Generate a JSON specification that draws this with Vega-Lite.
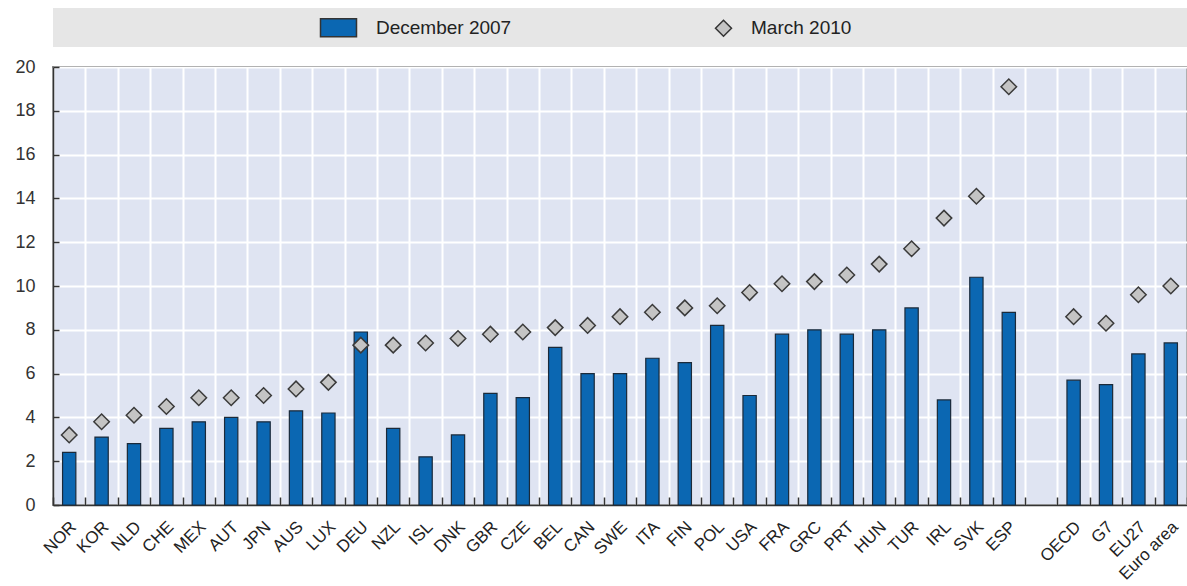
{
  "$schema": "https://vega.github.io/schema/vega-lite/v6.json",
  "padding": {"left": 14, "top": 8, "right": 0, "bottom": 0},
  "bounds": "flush",
  "spacing": 20,
  "config": {"font": "Liberation Sans", "view": {"stroke": null}},
  "vconcat": [
    {
      "width": 1134,
      "height": 39,
      "view": {"fill": "#e6e6e6", "stroke": null},
      "data": {"values": [{}]},
      "mark": {"type": "text", "text": ""},
      "encoding": {}
    },
    {
      "width": 1134,
      "height": 438,
      "view": {"fill": "#dfe4f2", "stroke": "#333333", "strokeWidth": 1.5},
      "data": {
        "values": [
          {"country": "NOR", "series": "December 2007", "value": 2.4},
          {"country": "KOR", "series": "December 2007", "value": 3.1},
          {"country": "NLD", "series": "December 2007", "value": 2.8},
          {"country": "CHE", "series": "December 2007", "value": 3.5},
          {"country": "MEX", "series": "December 2007", "value": 3.8},
          {"country": "AUT", "series": "December 2007", "value": 4.0},
          {"country": "JPN", "series": "December 2007", "value": 3.8},
          {"country": "AUS", "series": "December 2007", "value": 4.3},
          {"country": "LUX", "series": "December 2007", "value": 4.2},
          {"country": "DEU", "series": "December 2007", "value": 7.9},
          {"country": "NZL", "series": "December 2007", "value": 3.5},
          {"country": "ISL", "series": "December 2007", "value": 2.2},
          {"country": "DNK", "series": "December 2007", "value": 3.2},
          {"country": "GBR", "series": "December 2007", "value": 5.1},
          {"country": "CZE", "series": "December 2007", "value": 4.9},
          {"country": "BEL", "series": "December 2007", "value": 7.2},
          {"country": "CAN", "series": "December 2007", "value": 6.0},
          {"country": "SWE", "series": "December 2007", "value": 6.0},
          {"country": "ITA", "series": "December 2007", "value": 6.7},
          {"country": "FIN", "series": "December 2007", "value": 6.5},
          {"country": "POL", "series": "December 2007", "value": 8.2},
          {"country": "USA", "series": "December 2007", "value": 5.0},
          {"country": "FRA", "series": "December 2007", "value": 7.8},
          {"country": "GRC", "series": "December 2007", "value": 8.0},
          {"country": "PRT", "series": "December 2007", "value": 7.8},
          {"country": "HUN", "series": "December 2007", "value": 8.0},
          {"country": "TUR", "series": "December 2007", "value": 9.0},
          {"country": "IRL", "series": "December 2007", "value": 4.8},
          {"country": "SVK", "series": "December 2007", "value": 10.4},
          {"country": "ESP", "series": "December 2007", "value": 8.8},
          {"country": "OECD", "series": "December 2007", "value": 5.7},
          {"country": "G7", "series": "December 2007", "value": 5.5},
          {"country": "EU27", "series": "December 2007", "value": 6.9},
          {"country": "Euro area", "series": "December 2007", "value": 7.4},
          {"country": "NOR", "series": "March 2010", "value": 3.2},
          {"country": "KOR", "series": "March 2010", "value": 3.8},
          {"country": "NLD", "series": "March 2010", "value": 4.1},
          {"country": "CHE", "series": "March 2010", "value": 4.5},
          {"country": "MEX", "series": "March 2010", "value": 4.9},
          {"country": "AUT", "series": "March 2010", "value": 4.9},
          {"country": "JPN", "series": "March 2010", "value": 5.0},
          {"country": "AUS", "series": "March 2010", "value": 5.3},
          {"country": "LUX", "series": "March 2010", "value": 5.6},
          {"country": "DEU", "series": "March 2010", "value": 7.3},
          {"country": "NZL", "series": "March 2010", "value": 7.3},
          {"country": "ISL", "series": "March 2010", "value": 7.4},
          {"country": "DNK", "series": "March 2010", "value": 7.6},
          {"country": "GBR", "series": "March 2010", "value": 7.8},
          {"country": "CZE", "series": "March 2010", "value": 7.9},
          {"country": "BEL", "series": "March 2010", "value": 8.1},
          {"country": "CAN", "series": "March 2010", "value": 8.2},
          {"country": "SWE", "series": "March 2010", "value": 8.6},
          {"country": "ITA", "series": "March 2010", "value": 8.8},
          {"country": "FIN", "series": "March 2010", "value": 9.0},
          {"country": "POL", "series": "March 2010", "value": 9.1},
          {"country": "USA", "series": "March 2010", "value": 9.7},
          {"country": "FRA", "series": "March 2010", "value": 10.1},
          {"country": "GRC", "series": "March 2010", "value": 10.2},
          {"country": "PRT", "series": "March 2010", "value": 10.5},
          {"country": "HUN", "series": "March 2010", "value": 11.0},
          {"country": "TUR", "series": "March 2010", "value": 11.7},
          {"country": "IRL", "series": "March 2010", "value": 13.1},
          {"country": "SVK", "series": "March 2010", "value": 14.1},
          {"country": "ESP", "series": "March 2010", "value": 19.1},
          {"country": "OECD", "series": "March 2010", "value": 8.6},
          {"country": "G7", "series": "March 2010", "value": 8.3},
          {"country": "EU27", "series": "March 2010", "value": 9.6},
          {"country": "Euro area", "series": "March 2010", "value": 10.0}
        ]
      },
      "encoding": {
        "x": {
          "field": "country",
          "type": "nominal",
          "scale": {
            "domain": ["NOR", "KOR", "NLD", "CHE", "MEX", "AUT", "JPN", "AUS", "LUX", "DEU", "NZL", "ISL", "DNK", "GBR", "CZE", "BEL", "CAN", "SWE", "ITA", "FIN", "POL", "USA", "FRA", "GRC", "PRT", "HUN", "TUR", "IRL", "SVK", "ESP", " ", "OECD", "G7", "EU27", "Euro area"],
            "paddingInner": 0,
            "paddingOuter": 0
          },
          "axis": {
            "title": null,
            "tickBand": "extent",
            "grid": true,
            "gridColor": "#ffffff",
            "gridWidth": 2,
            "domainColor": "#333333",
            "domainWidth": 1.5,
            "tickColor": "#333333",
            "tickSize": -8,
            "tickWidth": 1.5,
            "labelAngle": -45,
            "labelAlign": "right",
            "labelBaseline": "middle",
            "labelPadding": 27,
            "labelOffset": 4,
            "labelFontSize": 17,
            "labelColor": "#222222"
          }
        },
        "y": {
          "field": "value",
          "type": "quantitative",
          "scale": {"domain": [0, 20], "nice": false},
          "axis": {
            "title": null,
            "values": [0, 2, 4, 6, 8, 10, 12, 14, 16, 18, 20],
            "grid": true,
            "gridColor": "#ffffff",
            "gridWidth": 2,
            "domainColor": "#333333",
            "domainWidth": 1.5,
            "tickColor": "#333333",
            "tickSize": -6,
            "tickWidth": 1.5,
            "labelPadding": 24,
            "labelFontSize": 18,
            "labelColor": "#333333"
          }
        },
        "color": {
          "field": "series",
          "type": "nominal",
          "scale": {"domain": ["December 2007", "March 2010"], "range": ["#0b67b2", "#c4c4c4"]},
          "legend": {
            "title": null,
            "orient": "none",
            "legendX": 286,
            "legendY": 10,
            "direction": "horizontal",
            "columnPadding": 200,
            "labelOffset": 18,
            "labelFontSize": 19,
            "labelColor": "#222222",
            "symbolSize": 256,
            "symbolStrokeColor": "#333333",
            "symbolStrokeWidth": 1.5,
            "padding": 0
          }
        }
      },
      "layer": [
        {
          "transform": [{"filter": {"field": "series", "equal": "December 2007"}}],
          "mark": {"type": "bar", "width": {"band": 0.41}, "stroke": "#1b2a3a", "strokeWidth": 1.2}
        },
        {
          "transform": [{"filter": {"field": "series", "equal": "March 2010"}}],
          "mark": {"type": "point", "filled": true, "size": 240, "opacity": 1, "stroke": "#3a3a3a", "strokeWidth": 1.5},
          "encoding": {
            "shape": {
              "field": "series",
              "type": "nominal",
              "scale": {"domain": ["December 2007", "March 2010"], "range": ["M-3.5,-1.125H1V1.125H-3.5Z", "diamond"]},
              "legend": {
                "title": null,
                "orient": "none",
                "legendX": 286,
                "legendY": 10,
                "direction": "horizontal",
                "columnPadding": 200,
                "labelOffset": 18,
                "labelFontSize": 19,
                "labelColor": "#222222",
                "symbolSize": 256,
                "symbolStrokeColor": "#333333",
                "symbolStrokeWidth": 1.5,
                "padding": 0
              }
            }
          }
        }
      ]
    }
  ]
}
